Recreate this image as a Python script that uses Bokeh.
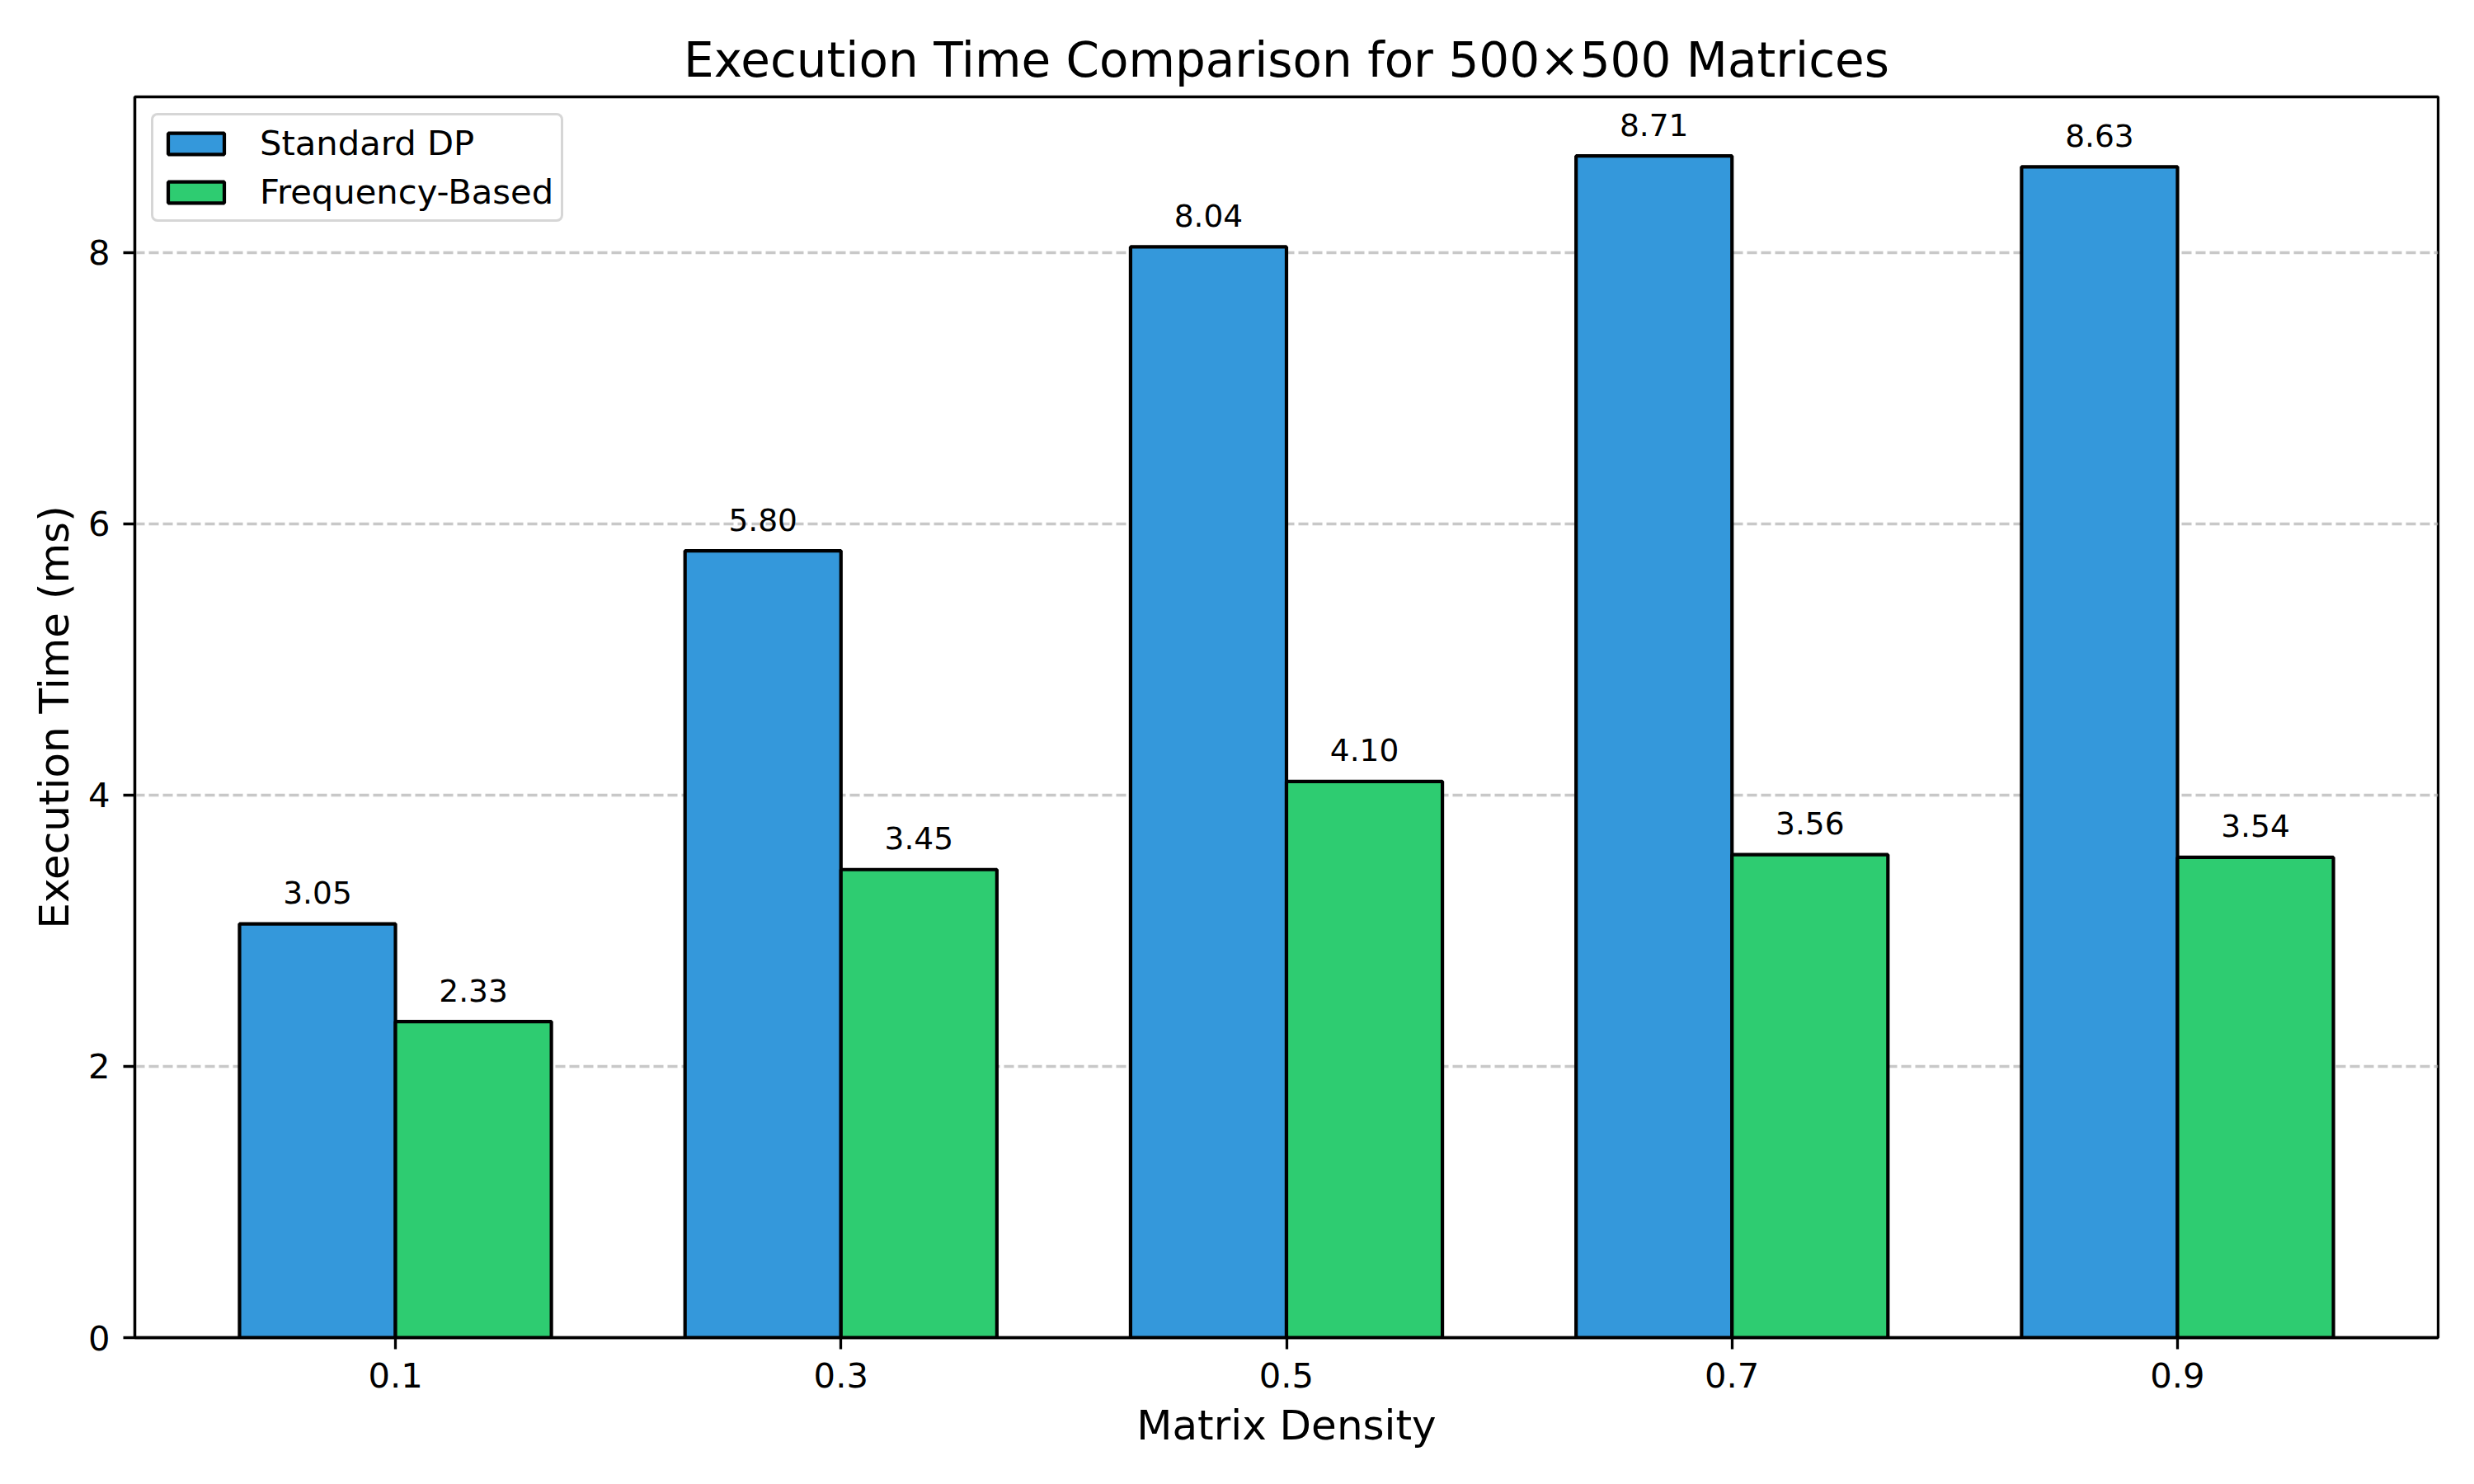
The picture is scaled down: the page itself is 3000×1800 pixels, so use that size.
from bokeh.plotting import figure
from bokeh.models import ColumnDataSource, FactorRange, Range1d, FixedTicker
from bokeh.transform import dodge
from bokeh.core.properties import value
from bokeh.embed import file_html
from bokeh.resources import INLINE

# ---- data ----
densities = ["0.1", "0.3", "0.5", "0.7", "0.9"]
standard_dp = [3.05, 5.80, 8.04, 8.71, 8.63]
frequency_based = [2.33, 3.45, 4.10, 3.56, 3.54]
y_ticks = [0, 2, 4, 6, 8]

src = ColumnDataSource(data=dict(
    cat=densities,
    std=standard_dp,
    freq=frequency_based,
    std_lbl=[f"{v:.2f}" for v in standard_dp],
    freq_lbl=[f"{v:.2f}" for v in frequency_based],
))

FONT = "DejaVu Sans"
BAR_W = 0.35

p = figure(
    width=2984, height=1784,
    x_range=FactorRange(factors=densities, range_padding=0.085, range_padding_units="absolute"),
    y_range=Range1d(0, max(standard_dp) * 1.05),
    output_backend="svg", toolbar_location=None,
    min_border_left=163, min_border_right=28, min_border_top=117, min_border_bottom=162,
    background_fill_color="white", border_fill_color="white",
)

p.title.text = "Execution Time Comparison for 500\u00d7500 Matrices"
p.title.align = "center"
p.title.text_font = FONT
p.title.text_font_size = "58px"
p.title.text_font_style = "normal"
p.title.text_color = "black"
p.title.standoff = 22

p.vbar(x=dodge("cat", -BAR_W / 2, range=p.x_range), top="std", width=BAR_W, source=src,
       fill_color="#3498db", line_color="black", line_width=4.2, legend_label="Standard DP")
p.vbar(x=dodge("cat", BAR_W / 2, range=p.x_range), top="freq", width=BAR_W, source=src,
       fill_color="#2ecc71", line_color="black", line_width=4.2, legend_label="Frequency-Based")

for col, lbl, off in (("std", "std_lbl", -BAR_W / 2), ("freq", "freq_lbl", BAR_W / 2)):
    p.text(x=dodge("cat", off, range=p.x_range), y=col, text=lbl, source=src,
           text_align="center", text_baseline="alphabetic", y_offset=-38,
           text_font=value(FONT), text_font_size="37.5px", text_color="black")

# axes
for ax in (p.xaxis[0], p.yaxis[0]):
    ax.axis_line_width = 3.3
    ax.axis_line_color = "black"
    ax.major_tick_line_width = 3.3
    ax.major_tick_out = 14
    ax.major_tick_in = 0
    ax.minor_tick_out = 0
    ax.minor_tick_in = 0
    ax.major_label_text_font = FONT
    ax.major_label_text_font_size = "41.7px"
    ax.major_label_text_color = "black"
    ax.axis_label_text_font = FONT
    ax.axis_label_text_font_size = "50px"
    ax.axis_label_text_font_style = "normal"
    ax.axis_label_text_color = "black"
    ax.major_label_standoff = 16

p.xaxis.axis_label = "Matrix Density"
p.yaxis.axis_label = "Execution Time (ms)"
p.xaxis.axis_label_standoff = 14
p.yaxis.axis_label_standoff = 9
p.yaxis.ticker = FixedTicker(ticks=y_ticks)
p.xaxis.group_text_font_size = "0px"

p.outline_line_color = "black"
p.outline_line_width = 3.3
p.outline_line_alpha = 1.0

p.xgrid.visible = False
p.ygrid.ticker = FixedTicker(ticks=y_ticks)
p.ygrid.grid_line_color = "#b0b0b0"
p.ygrid.grid_line_alpha = 0.7
p.ygrid.grid_line_width = 3.3
p.ygrid.grid_line_dash = "12 5"

# legend
lg = p.legend[0]
lg.location = "top_left"
lg.margin = 20
lg.padding = 9
lg.spacing = 10
lg.glyph_width = 85
lg.glyph_height = 32
lg.label_height = 44
lg.label_standoff = 35
lg.label_text_font = FONT
lg.label_text_font_size = "41.7px"
lg.label_text_color = "black"
lg.border_line_color = "#cccccc"
lg.border_line_width = 3.3
lg.border_line_alpha = 0.8
lg.background_fill_alpha = 0.8
try:
    lg.border_radius = 8
except Exception:
    pass

open("out.html", "w").write(file_html(p, INLINE))
